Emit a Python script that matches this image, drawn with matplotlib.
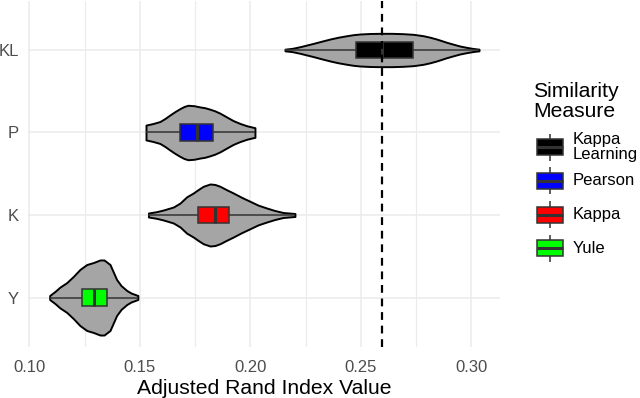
"""Violin + box plot of Adjusted Rand Index per similarity measure."""

import matplotlib.pyplot as plt
from matplotlib.patches import Rectangle

plt.rcParams['font.family'] = ['Liberation Sans', 'DejaVu Sans']

# categories from bottom to top of the y axis
categories = ["Y", "K", "P", "KL"]
box_colors = ["#00FF00", "#FF0000", "#0000FF", "#000000"]

# legend entries, top to bottom
legend_labels = ["Kappa\nLearning", "Pearson", "Kappa", "Yule"]
legend_colors = ["#000000", "#0000FF", "#FF0000", "#00FF00"]

# box statistics (q1, median, q3) per category
box_q1 = [0.1240, 0.1765, 0.1682, 0.2478]
box_med = [0.1294, 0.1840, 0.1760, 0.2595]
box_q3 = [0.1350, 0.1905, 0.1833, 0.2735]

# violin outlines: value and half width (category units)
y_vals = [0.1092, 0.1116, 0.1139, 0.1169, 0.1199, 0.1229, 0.1260, 0.1290, 0.1320,
          0.1338, 0.1365, 0.1379, 0.1395, 0.1415, 0.1441, 0.1460, 0.1491]
y_half = [0.024, 0.073, 0.127, 0.18, 0.255, 0.34, 0.40, 0.424, 0.455,
          0.455, 0.40, 0.315, 0.218, 0.145, 0.085, 0.055, 0.024]

k_vals = [0.1539, 0.1575, 0.1606, 0.1652, 0.1682, 0.1712, 0.1742, 0.1765, 0.1787,
          0.1818, 0.1840, 0.1863, 0.1890, 0.1923, 0.1960, 0.1999, 0.2035, 0.2074,
          0.2110, 0.2149, 0.2202]
k_half = [0.024, 0.04, 0.06, 0.097, 0.145, 0.22, 0.267, 0.31, 0.348,
          0.376, 0.37, 0.348, 0.31, 0.267, 0.215, 0.166, 0.12, 0.085,
          0.055, 0.03, 0.018]

p_vals = [0.1528, 0.1560, 0.1591, 0.1614, 0.1637, 0.1660, 0.1682, 0.1700, 0.1718,
          0.1745, 0.1772, 0.1795, 0.1818, 0.1840, 0.1863, 0.1892, 0.1922, 0.1953,
          0.1985, 0.2021]
p_half = [0.09, 0.109, 0.133, 0.17, 0.214, 0.255, 0.29, 0.315, 0.33,
          0.325, 0.31, 0.30, 0.282, 0.262, 0.234, 0.19, 0.145, 0.11,
          0.081, 0.058]

kl_vals = [0.2157, 0.2190, 0.2225, 0.2255, 0.2285, 0.2323, 0.2361, 0.2398, 0.2436,
           0.2467, 0.2497, 0.2542, 0.2587, 0.2640, 0.2690, 0.2738, 0.2783, 0.2813,
           0.2843, 0.2866, 0.2889, 0.2919, 0.2949, 0.2979, 0.3005, 0.3035]
kl_half = [0.01, 0.02, 0.04, 0.06, 0.08, 0.107, 0.133, 0.155, 0.173,
           0.186, 0.194, 0.2, 0.202, 0.202, 0.198, 0.19, 0.173, 0.155,
           0.133, 0.113, 0.093, 0.07, 0.048, 0.032, 0.02, 0.01]

violins = [(y_vals, y_half), (k_vals, k_half), (p_vals, p_half), (kl_vals, kl_half)]

# reference line (Kappa Learning mean)
ref_value = 0.2595

x_ticks = [0.10, 0.15, 0.20, 0.25, 0.30]
x_minor = [0.125, 0.175, 0.225, 0.275]

fig = plt.figure(figsize=(6.4, 3.98), dpi=100)
ax = fig.add_axes([28 / 640, 51 / 398, 472 / 640, 346.5 / 398])

box_h = 0.2
edge = "#333333"
for i, (vals, half) in enumerate(violins):
    pos = i + 1
    lo = [pos - h for h in half]
    hi = [pos + h for h in half]
    ax.fill_between(vals, lo, hi, facecolor="#A5A5A5", edgecolor="black",
                    linewidth=1.4, zorder=2)
    # whiskers run to the data extremes
    ax.hlines(pos, vals[0], vals[-1], color=edge, linewidth=1.1, zorder=3)
    ax.add_patch(Rectangle((box_q1[i], pos - box_h / 2), box_q3[i] - box_q1[i], box_h,
                           facecolor=box_colors[i], edgecolor=edge, linewidth=1.1,
                           zorder=4))
    ax.vlines(box_med[i], pos - box_h / 2, pos + box_h / 2, color=edge,
              linewidth=2.2, zorder=5)

ax.axvline(ref_value, color="black", linewidth=1.6, linestyle=(0, (3.5, 2.6)), zorder=6)

ax.set_xlim(0.0994, 0.3130)
ax.set_ylim(0.4, 4.6)
ax.set_xticks(x_ticks)
ax.set_xticklabels([f"{t:.2f}" for t in x_ticks])
ax.set_xticks(x_minor, minor=True)
ax.set_yticks(range(1, len(categories) + 1))
ax.set_yticklabels(categories)
ax.grid(which="major", color="#EBEBEB", linewidth=1.1)
ax.grid(which="minor", axis="x", color="#EBEBEB", linewidth=0.8)
ax.set_axisbelow(True)
for s in ax.spines.values():
    s.set_visible(False)
ax.tick_params(which="both", length=0, labelsize=12, labelcolor="#4D4D4D")
ax.tick_params(axis="x", pad=9.5)
ax.tick_params(axis="y", pad=6.5)
ax.set_xlabel("Adjusted Rand Index Value", fontsize=15.2, labelpad=2.5)

# legend drawn in pixel coordinates
leg = fig.add_axes([0, 0, 1, 1])
leg.set_xlim(0, 640)
leg.set_ylim(398, 0)
leg.axis("off")
leg.text(533, 96.7, "Similarity", fontsize=15.2, va="baseline", ha="left")
leg.text(533, 116.7, "Measure", fontsize=15.2, va="baseline", ha="left")
key_y = [147.3, 180.7, 214.5, 248.3]
for cy, lab, col in zip(key_y, legend_labels, legend_colors):
    leg.vlines(550, cy - 13.5, cy + 13.5, color=edge, linewidth=1.1, zorder=1)
    leg.add_patch(Rectangle((536.7, cy - 8), 26.6, 16, facecolor=col,
                            edgecolor=edge, linewidth=1.1, zorder=2))
    leg.hlines(cy, 536.7, 563.3, color=edge, linewidth=2.2, zorder=3)
    leg.text(572.7, cy, lab, fontsize=12, va="center", ha="left", linespacing=1.0)

fig.savefig("out.png", dpi=100)
